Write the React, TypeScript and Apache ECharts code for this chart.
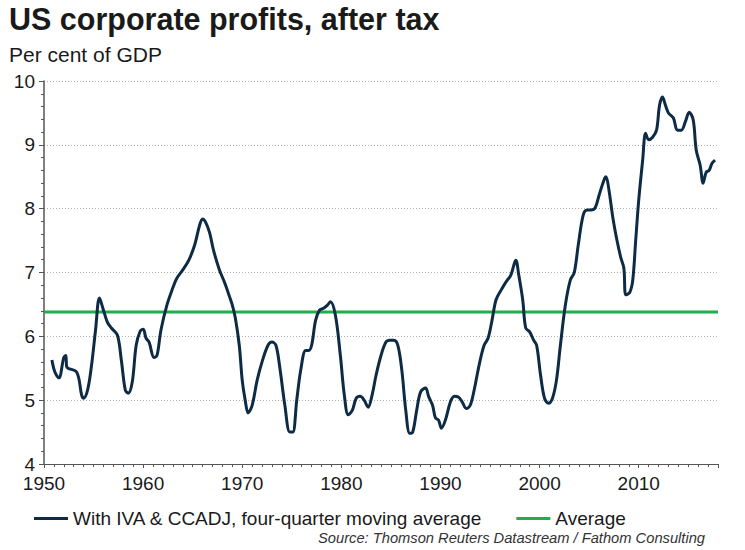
import React, { useEffect, useRef } from "react";
import * as echarts from "echarts";

const years = [
  1950.8, 1951.1, 1951.5, 1952.0, 1952.2, 1952.3, 1953.3, 1953.8, 1954.0, 1954.4,
  1954.8, 1955.2, 1955.6, 1956.0, 1956.4, 1956.8, 1957.4, 1957.8, 1958.2, 1958.5,
  1958.9, 1959.3, 1959.7, 1960.0, 1960.3, 1960.6, 1961.1, 1961.4, 1961.8, 1962.4,
  1963.0, 1963.4, 1964.0, 1964.6, 1965.2, 1965.7, 1966.0, 1966.3, 1966.7, 1967.1,
  1967.7, 1968.2, 1968.7, 1969.0, 1969.3, 1969.7, 1970.0, 1970.3, 1970.6, 1971.0,
  1971.5, 1972.0, 1972.6, 1973.0, 1973.4, 1973.8, 1974.3, 1974.8, 1975.1, 1975.5,
  1975.9, 1976.4, 1976.7, 1977.0, 1977.4, 1977.8, 1978.2, 1978.6, 1978.9, 1979.4,
  1979.9, 1980.3, 1980.7, 1981.1, 1981.5, 1981.9, 1982.3, 1982.7, 1983.1, 1983.5,
  1984.0, 1984.5, 1984.9, 1985.3, 1985.7, 1986.1, 1986.5, 1986.9, 1987.2, 1987.6,
  1988.0, 1988.5, 1988.8, 1989.2, 1989.5, 1989.8, 1990.1, 1990.5, 1991.0, 1991.4,
  1991.8, 1992.2, 1992.6, 1993.0, 1993.4, 1993.9, 1994.4, 1994.8, 1995.2, 1995.6,
  1996.1, 1996.6, 1997.1, 1997.6, 1997.9, 1998.3, 1998.6, 1999.0, 1999.4, 1999.7,
  2000.1, 2000.5, 2000.9, 2001.3, 2001.7, 2002.1, 2002.6, 2003.1, 2003.5, 2003.9,
  2004.4, 2004.8, 2005.2, 2005.6, 2006.0, 2006.5, 2006.7, 2007.0, 2007.4, 2007.8,
  2008.2, 2008.5, 2008.7, 2009.1, 2009.4, 2009.7, 2010.0, 2010.4, 2010.7, 2011.0,
  2011.4, 2011.8, 2012.1, 2012.4, 2012.7, 2013.0, 2013.5, 2013.9, 2014.3, 2014.7,
  2015.1, 2015.5, 2015.8, 2016.2, 2016.5, 2016.8, 2017.1, 2017.4, 2017.7,
];

const profits = [
  5.63, 5.44, 5.35, 5.67, 5.7, 5.52, 5.44, 5.08, 5.03, 5.16,
  5.55, 6.1, 6.6, 6.41, 6.22, 6.13, 6.02, 5.63, 5.16, 5.11,
  5.28, 5.86, 6.08, 6.11, 5.97, 5.91, 5.67, 5.7, 6.1, 6.49,
  6.76, 6.91, 7.04, 7.19, 7.43, 7.74, 7.84, 7.79, 7.63, 7.35,
  7.04, 6.85, 6.63, 6.49, 6.29, 5.86, 5.31, 5.0, 4.8, 4.92,
  5.31, 5.6, 5.86, 5.91, 5.86, 5.5, 4.92, 4.5, 4.5, 5.0,
  5.47, 5.78, 5.78, 5.86, 6.25, 6.41, 6.44, 6.49, 6.54, 6.33,
  5.7, 5.08, 4.77, 4.84, 5.03, 5.06, 5.0, 4.89, 5.08, 5.39,
  5.7, 5.91, 5.94, 5.94, 5.86, 5.47, 4.84, 4.48, 4.5, 4.84,
  5.13, 5.19, 5.06, 4.92, 4.72, 4.69, 4.56, 4.69, 4.97, 5.06,
  5.05, 4.97, 4.87, 4.92, 5.16, 5.55, 5.86, 5.97, 6.25, 6.57,
  6.72, 6.85, 6.96, 7.19, 6.96, 6.57, 6.13, 6.07, 5.94, 5.86,
  5.39, 5.03, 4.95, 5.03, 5.31, 5.86, 6.49, 6.88, 7.0, 7.43,
  7.9, 7.98, 7.98, 8.01, 8.21, 8.45, 8.5, 8.29, 7.85, 7.51,
  7.23, 7.07, 6.65, 6.69, 6.88, 7.51, 8.13, 8.76, 9.18, 9.08,
  9.12, 9.23, 9.62, 9.75, 9.62, 9.5, 9.42, 9.23, 9.23, 9.36,
  9.51, 9.39, 8.92, 8.68, 8.4, 8.57, 8.6, 8.71, 8.76,
];

const averageValue = 6.38;
const averageSpan = [1950, 2018];

const seriesNames = [
  "With IVA & CCADJ, four-quarter moving average",
  "Average",
];

const titleText = "US corporate profits, after tax";
const subtitleText = "Per cent of GDP";
const sourceText = "Source: Thomson Reuters Datastream / Fathom Consulting";

const FONT = "Liberation Sans, Arial, Helvetica, sans-serif";
const TEXT = "#1a1a1a";
const NAVY = "#0d2b45";
const GREEN = "#1fae4b";

export default function App() {
  const ref = useRef<HTMLDivElement>(null);
  useEffect(() => {
    if (!ref.current) return;
    const chart = echarts.init(ref.current, undefined, { renderer: "svg" });
    chart.setOption({
      animation: false,
      backgroundColor: "#ffffff",
      textStyle: { fontFamily: FONT },
      graphic: [
        {
          type: "text",
          left: 9,
          top: 3,
          style: {
            text: titleText,
            font: `bold 30.5px ${FONT}`,
            fill: TEXT,
          },
        },
        {
          type: "text",
          left: 9,
          top: 44,
          style: {
            text: subtitleText,
            font: `21px ${FONT}`,
            fill: TEXT,
          },
        },
        {
          type: "text",
          right: 40,
          top: 530,
          style: {
            text: sourceText,
            font: `italic 14.7px ${FONT}`,
            fill: "#333333",
          },
        },
      ],
      legend: {
        left: 29,
        top: 504,
        itemWidth: 34,
        itemHeight: 3,
        itemGap: 34,
        icon: "rect",
        textStyle: { fontSize: 19, color: TEXT, fontFamily: FONT },
        data: seriesNames,
      },
      grid: { left: 44, right: 27, top: 81, bottom: 86 },
      xAxis: {
        type: "value",
        min: 1950,
        max: 2018,
        interval: 10,
        axisLine: { show: true, lineStyle: { color: "#555555", width: 1 } },
        axisTick: { show: true, length: 4, lineStyle: { color: "#555555" } },
        minorTick: { show: true, splitNumber: 10, length: 3, lineStyle: { color: "#555555" } },
        splitLine: { show: false },
        axisLabel: {
          fontSize: 19,
          color: TEXT,
          margin: 10,
          fontFamily: FONT,
          showMaxLabel: false,
          formatter: (v: number) => String(v),
        },
      },
      yAxis: {
        type: "value",
        min: 4,
        max: 10,
        interval: 1,
        axisLine: { show: true, lineStyle: { color: "#555555", width: 1.5 } },
        axisTick: { show: true, length: 5, lineStyle: { color: "#555555" } },
        minorTick: { show: true, splitNumber: 5, length: 3, lineStyle: { color: "#555555" } },
        splitLine: {
          show: true,
          lineStyle: { color: "#b0b0b0", type: [1, 2], width: 1 },
        },
        axisLabel: { fontSize: 19, color: TEXT, margin: 9, fontFamily: FONT },
      },
      series: [
        {
          name: seriesNames[0],
          type: "line",
          data: years.map((y, i) => [y, profits[i]]),
          symbol: "none",
          smooth: 0.35,
          lineStyle: { color: NAVY, width: 3 },
          itemStyle: { color: NAVY },
          z: 3,
        },
        {
          name: seriesNames[1],
          type: "line",
          data: averageSpan.map((y) => [y, averageValue]),
          symbol: "none",
          lineStyle: { color: GREEN, width: 3 },
          itemStyle: { color: GREEN },
          z: 2,
        },
      ],
    });
    return () => chart.dispose();
  }, []);
  return (
    <div
      ref={ref}
      style={{ position: "fixed", left: 0, top: 0, width: 745, height: 550 }}
    />
  );
}
